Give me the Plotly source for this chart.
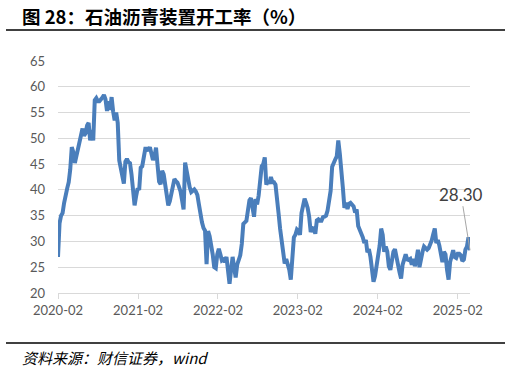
import datetime as dt
import plotly.graph_objects as go

# ---- data (weekly) ----
start_date = dt.date(2020, 2, 7)
values = [
    27.0, 33.5, 35.0, 35.5, 37.5, 39.5, 40.3, 41.5, 44.0, 48.3,
    47.3, 45.2, 46.6, 47.8, 49.5, 51.2, 51.9, 50.5, 51.0, 52.5,
    53.0, 49.6, 51.6, 49.6, 57.4, 57.8, 57.2, 57.2, 57.5, 57.9,
    58.4, 57.6, 55.3, 57.2, 55.5, 58.0, 55.2, 53.5, 55.0, 53.0,
    45.7, 43.9, 42.0, 41.2, 45.5, 46.0, 45.4, 45.2, 43.0, 39.0,
    37.0, 38.8, 40.3, 40.0, 44.3, 44.6, 46.3, 48.0, 48.0, 47.6,
    48.3, 47.2, 45.8, 46.5, 48.2, 44.8, 41.6, 41.1, 43.7, 43.0,
    41.0, 38.0, 37.0, 37.8, 39.5, 41.3, 42.1, 41.7, 41.4, 40.6,
    39.7, 38.0, 36.2, 45.3, 43.6, 41.1, 40.5, 39.6, 39.8, 40.1,
    39.7, 39.0, 37.2, 35.2, 33.7, 32.6, 32.1, 25.6, 32.0, 31.0,
    29.5, 27.5, 25.0, 24.8, 27.5, 28.6, 27.5, 26.3, 26.5, 26.0,
    27.0, 24.5, 21.8, 24.5, 27.0, 25.0, 23.0, 25.5, 26.7, 27.3,
    29.5, 33.4, 33.7, 34.0, 36.0, 38.0, 38.4, 36.0, 34.8, 38.2,
    37.2, 38.9, 43.0, 44.6, 45.0, 46.3, 41.0, 41.8, 41.2, 42.5,
    41.5, 41.5, 41.0, 37.2, 35.5, 32.5, 30.5, 28.7, 25.7, 26.6,
    25.5, 24.5, 22.6, 26.8, 30.8, 31.3, 32.3, 32.0, 31.3, 35.5,
    37.3, 38.3, 37.5, 36.5, 34.8, 31.8, 32.6, 32.5, 31.5, 34.1,
    34.3, 34.0, 34.0, 34.7, 34.8, 35.0, 36.0, 37.5, 39.8, 44.5,
    45.5, 45.9, 46.5, 49.6, 47.0, 42.4, 40.4, 36.5, 37.5, 36.3,
    37.3, 37.5, 37.2, 36.8, 35.6, 36.2, 33.0, 32.3, 31.8, 30.8,
    29.7, 30.3, 27.9, 28.5, 27.0, 24.3, 22.2, 23.3, 25.0, 27.2,
    29.2, 32.5, 31.3, 28.0, 29.0, 28.0, 25.2, 24.5, 26.8, 28.0,
    28.5, 26.4, 25.5, 24.0, 22.8, 25.5, 26.8, 27.5, 26.5, 26.4,
    26.6, 25.5, 26.6, 25.2, 26.5, 28.4, 25.0, 27.0, 28.0, 29.0,
    28.6, 28.4, 28.7, 29.3, 30.2, 31.4, 32.5, 29.7, 30.3, 29.2,
    28.0, 26.0, 28.0, 27.5, 24.5, 22.6, 26.0, 27.5, 28.3, 27.0,
    26.8, 27.6, 27.6, 27.3, 26.2, 26.5, 28.4, 29.0, 30.8, 28.3,
]
dates = [start_date + dt.timedelta(weeks=i) for i in range(len(values))]
tick_dates = [dt.date(y, 2, 7) for y in [2020, 2021, 2022, 2023, 2024, 2025]]
y_ticks = [20, 25, 30, 35, 40, 45, 50, 55, 60, 65]
last_label = "28.30"

title_text = "图 28：石油沥青装置开工率（%）"
source_text = "资料来源：财信证券，wind"

W, H = 511, 374
L, R, T, B = 58, 470, 61, 293   # plot area in pixels

def px(x):   # pixel x -> paper (whole figure)
    return x / W

def py(y):   # pixel y -> paper (whole figure)
    return 1 - y / H

rule_style = dict(type="rect", xref="paper", yref="paper",
                  fillcolor="black", line=dict(width=0), layer="above")

fig = go.Figure()
fig.add_trace(go.Scatter(
    x=dates, y=values, mode="lines",
    line=dict(color="rgb(74,126,187)", width=4),
    hoverinfo="skip", showlegend=False,
))

fig.update_layout(
    width=W, height=H,
    margin=dict(l=0, r=0, t=0, b=0, pad=0, autoexpand=False),
    paper_bgcolor="white", plot_bgcolor="white",
    font=dict(family="Lato, 'Open Sans', sans-serif", color="#595959", size=12),
    xaxis=dict(
        type="date", automargin=False, domain=[px(L), px(R)],
        range=[dates[0], dates[-1]],
        tickvals=tick_dates, tickformat="%Y-%m",
        showgrid=False, zeroline=False,
        showline=True, linecolor="#d9d9d9", linewidth=1,
        ticks="outside", ticklen=5, tickcolor="#d9d9d9",
        tickfont=dict(size=13, color="#595959"),
    ),
    yaxis=dict(
        range=[20, 65], tickvals=y_ticks, automargin=False,
        domain=[py(B), py(T)],
        showgrid=True, gridcolor="#d9d9d9", gridwidth=1,
        zeroline=False, showline=False, ticks="",
        ticklabelstandoff=12,
        tickfont=dict(size=13, color="#595959"),
    ),
    shapes=[
        dict(rule_style, x0=px(6), x1=px(505), y0=py(29.2), y1=py(30.8)),
        dict(rule_style, x0=px(6), x1=px(505), y0=py(342.2), y1=py(343.8)),
    ],
)

# title and source
fig.add_annotation(
    xref="paper", yref="paper", x=px(20), y=py(16),
    xanchor="left", yanchor="middle", showarrow=False,
    text="<b>" + title_text + "</b>",
    font=dict(family="'Noto Sans CJK SC', sans-serif", size=18.5, color="black"),
)
fig.add_annotation(
    xref="paper", yref="paper", x=px(20), y=py(357),
    xanchor="left", yanchor="middle", showarrow=False,
    text="<i>" + source_text + "</i>",
    font=dict(family="'Noto Sans CJK SC', serif", size=15, color="black"),
)

# last value label
fig.add_annotation(
    x=dates[-1], y=values[-1], text=last_label,
    showarrow=True, arrowhead=0, arrowwidth=1, arrowcolor="#a6a6a6",
    ax=-9, ay=-56,
    font=dict(family="Lato, 'Open Sans', sans-serif", size=17, color="#404040"),
)

fig.write_html(
    "out.html",
    config={"displayModeBar": False},
    post_script="document.body.style.margin='0';",
)
